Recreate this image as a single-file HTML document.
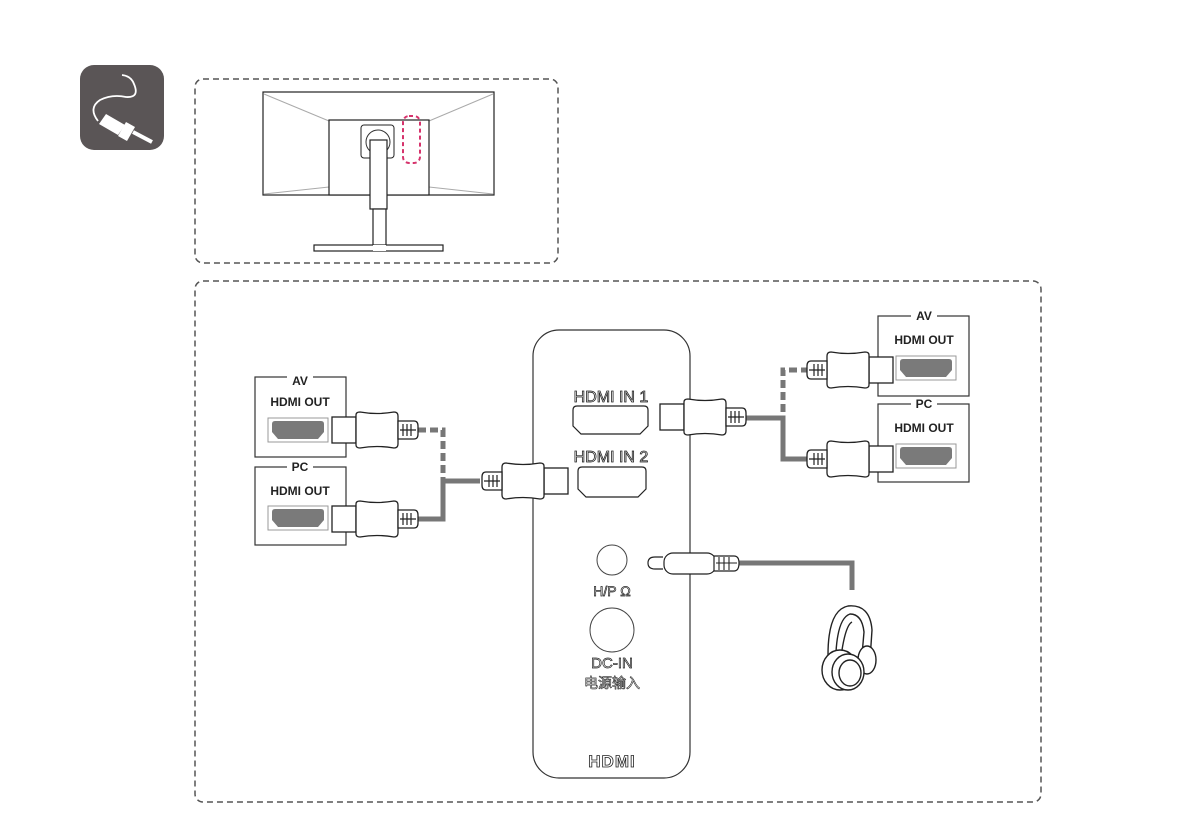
<!DOCTYPE html>
<html><head><meta charset="utf-8"><style>
html,body{margin:0;padding:0;background:#fff;}
svg{display:block;}
text{font-family:"Liberation Sans","Noto Sans CJK SC",sans-serif;}
</style></head><body>
<svg width="1191" height="839" viewBox="0 0 1191 839" xmlns="http://www.w3.org/2000/svg">
<defs>
<g id="plug">
  <rect x="0" y="-13" width="24" height="26" fill="#fff" stroke="#222" stroke-width="1.3"/>
  <path d="M24,-15 Q24,-18 28,-18 Q45,-15 62,-18 Q66,-18 66,-14 L66,14 Q66,18 62,18 Q45,15 28,18 Q24,18 24,15 Z" fill="#fff" stroke="#222" stroke-width="1.3"/>
  <path d="M66,-9 L82,-9 Q86,-9 86,-4 L86,4 Q86,9 82,9 L66,9 Z" fill="#fff" stroke="#222" stroke-width="1.3"/>
  <path d="M71,-6 V6 M75,-6 V6 M79,-6 V6 M68,0 H84" stroke="#222" stroke-width="1.2"/>
</g>
<g id="port">
  <rect x="0" y="0" width="60" height="24" fill="#fff" stroke="#999" stroke-width="1"/>
  <path d="M4,6 Q4,3 7,3 L53,3 Q56,3 56,6 L56,14 L50,21 L10,21 L4,14 Z" fill="#7a7a7a"/>
</g>
</defs>

<!-- icon -->
<rect x="80" y="65" width="84" height="85" rx="14" fill="#5a5556"/>
<path d="M98,121 Q88,108 100,100 Q112,94 126,97 Q140,98 134,84 Q131,76 122,75" fill="none" stroke="#fff" stroke-width="1.8"/>
<path d="M99,124 L106,114 L125,125 L118,135 Z" fill="#fff"/>
<path d="M118,136 L126,122 L135,127 L127,141 Z" fill="#fff"/>
<path d="M133,132 L152,142" stroke="#fff" stroke-width="4"/>

<!-- top dashed box -->
<rect x="195" y="79" width="363" height="184" rx="8" fill="none" stroke="#555" stroke-width="1.5" stroke-dasharray="6,4"/>
<!-- monitor -->
<rect x="263" y="92" width="231" height="103" fill="#fff" stroke="#222" stroke-width="1.2"/>
<path d="M264,94 L329,121 M493,94 L429,121 M264,194 L329,187 M493,194 L429,187" stroke="#aaa" stroke-width="1"/>
<rect x="329" y="120" width="100" height="75" fill="#fff" stroke="#222" stroke-width="1.2"/>
<rect x="361" y="125" width="33" height="33" rx="3" fill="#fff" stroke="#222" stroke-width="1"/>
<circle cx="378" cy="142" r="12" fill="#fff" stroke="#333" stroke-width="1"/>
<rect x="370" y="140" width="17" height="69" fill="#fff" stroke="#222" stroke-width="1.2"/>
<rect x="373" y="209" width="13" height="40" fill="#fff" stroke="#222" stroke-width="1.2"/>
<rect x="314" y="245" width="129" height="6" fill="#fff" stroke="#222" stroke-width="1.2"/>
<rect x="373" y="245" width="13" height="6" fill="#fff"/>
<rect x="403" y="116" width="17" height="47" rx="6" fill="none" stroke="#d6336c" stroke-width="2" stroke-dasharray="4,3"/>

<!-- bottom dashed box -->
<rect x="195" y="281" width="846" height="521" rx="8" fill="none" stroke="#555" stroke-width="1.5" stroke-dasharray="6,4"/>

<!-- panel -->
<rect x="533" y="330" width="157" height="448" rx="26" fill="#fff" stroke="#333" stroke-width="1.2"/>
<text x="611" y="402" font-size="16" text-anchor="middle" fill="#fff" stroke="#222" stroke-width="0.8">HDMI IN 1</text>
<path d="M573,410 Q573,406 577,406 L644,406 Q648,406 648,410 L648,426 L640,434 L581,434 L573,426 Z" fill="#fff" stroke="#222" stroke-width="1.2"/>
<text x="611" y="462" font-size="16" text-anchor="middle" fill="#fff" stroke="#222" stroke-width="0.8">HDMI IN 2</text>
<path d="M578,471 Q578,467 582,467 L642,467 Q646,467 646,471 L646,489 L638,497 L586,497 L578,489 Z" fill="#fff" stroke="#222" stroke-width="1.2"/>
<circle cx="612" cy="560" r="15" fill="#fff" stroke="#444" stroke-width="1"/>
<text x="612" y="596" font-size="14" text-anchor="middle" fill="#fff" stroke="#222" stroke-width="0.7">H/P Ω</text>
<circle cx="612" cy="630" r="22" fill="#fff" stroke="#444" stroke-width="1"/>
<text x="612" y="668" font-size="15" text-anchor="middle" fill="#fff" stroke="#222" stroke-width="0.7">DC-IN</text>
<text x="612" y="688" font-size="14" text-anchor="middle" fill="#fff" stroke="#222" stroke-width="0.6">电源输入</text>
<text x="612" y="767" font-size="17" font-weight="bold" text-anchor="middle" fill="#fff" stroke="#222" stroke-width="0.8" letter-spacing="1">HDMI</text>

<!-- left boxes -->
<rect x="255" y="377" width="91" height="80" fill="#fff" stroke="#333" stroke-width="1.2"/>
<rect x="287" y="372" width="26" height="10" fill="#fff"/>
<text x="300" y="385" font-size="12" font-weight="bold" text-anchor="middle" fill="#222">AV</text>
<text x="300" y="406" font-size="12" font-weight="bold" text-anchor="middle" fill="#222">HDMI OUT</text>
<use href="#port" x="268" y="418"/>
<rect x="255" y="467" width="91" height="78" fill="#fff" stroke="#333" stroke-width="1.2"/>
<rect x="287" y="462" width="26" height="10" fill="#fff"/>
<text x="300" y="471" font-size="12" font-weight="bold" text-anchor="middle" fill="#222">PC</text>
<text x="300" y="495" font-size="12" font-weight="bold" text-anchor="middle" fill="#222">HDMI OUT</text>
<use href="#port" x="268" y="506"/>

<!-- left cables -->
<path d="M418,430 H443 V480" fill="none" stroke="#777" stroke-width="5" stroke-dasharray="8,4"/>
<path d="M418,519 H443 V481 H480" fill="none" stroke="#777" stroke-width="5"/>
<use href="#plug" transform="translate(332,430)"/>
<use href="#plug" transform="translate(332,519)"/>
<use href="#plug" transform="translate(568,481) scale(-1,1)"/>

<!-- right boxes -->
<rect x="878" y="316" width="91" height="80" fill="#fff" stroke="#333" stroke-width="1.2"/>
<rect x="911" y="311" width="26" height="10" fill="#fff"/>
<text x="924" y="320" font-size="12" font-weight="bold" text-anchor="middle" fill="#222">AV</text>
<text x="924" y="344" font-size="12" font-weight="bold" text-anchor="middle" fill="#222">HDMI OUT</text>
<use href="#port" x="896" y="356"/>
<rect x="878" y="404" width="91" height="78" fill="#fff" stroke="#333" stroke-width="1.2"/>
<rect x="911" y="399" width="26" height="10" fill="#fff"/>
<text x="924" y="408" font-size="12" font-weight="bold" text-anchor="middle" fill="#222">PC</text>
<text x="924" y="432" font-size="12" font-weight="bold" text-anchor="middle" fill="#222">HDMI OUT</text>
<use href="#port" x="896" y="444"/>

<!-- right cables -->
<path d="M809,370 H783 V418" fill="none" stroke="#777" stroke-width="5" stroke-dasharray="8,4"/>
<path d="M744,418 H783 V459 H809" fill="none" stroke="#777" stroke-width="5"/>
<use href="#plug" transform="translate(660,417)"/>
<use href="#plug" transform="translate(893,370) scale(-1,1)"/>
<use href="#plug" transform="translate(893,459) scale(-1,1)"/>

<!-- headphone jack -->
<path d="M738,563 H852 V590" fill="none" stroke="#777" stroke-width="5"/>
<path d="M663,557 L655,557 Q648,557 648,563 Q648,569 655,569 L663,569" fill="#fff" stroke="#222" stroke-width="1.2"/>
<rect x="664" y="553" width="52" height="21" rx="9" fill="#fff" stroke="#222" stroke-width="1.2"/>
<path d="M714,556 L734,556 Q739,556 739,563 Q739,571 734,571 L714,571 Z" fill="#fff" stroke="#222" stroke-width="1.2"/>
<path d="M719,557 V570 M724,557 V570 M729,557 V570 M716,563 H737" stroke="#222" stroke-width="1.1"/>

<!-- headphones -->
<g fill="#fff" stroke="#222" stroke-width="1.4">
<path d="M828,655 Q828,610 848,606 Q870,604 872,630 L870,660" fill="none"/>
<path d="M836,652 Q838,618 850,614 Q862,614 864,632 L862,655" fill="none"/>
<path d="M842,650 Q846,625 852,622" fill="none"/>
<ellipse cx="867" cy="660" rx="9" ry="14"/>
<ellipse cx="840" cy="670" rx="18" ry="20"/>
<ellipse cx="848" cy="672" rx="16" ry="18"/>
<ellipse cx="850" cy="673" rx="11" ry="13"/>
</g>
</svg>
</body></html>
